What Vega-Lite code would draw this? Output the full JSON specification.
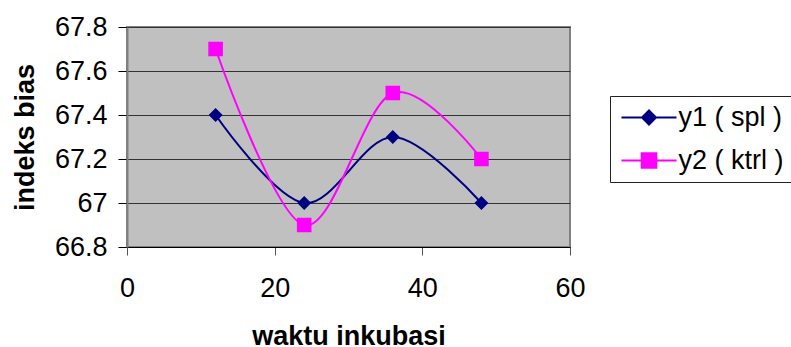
{
  "$schema": "https://vega.github.io/schema/vega-lite/v6.json",
  "width": 443,
  "height": 220,
  "autosize": "none",
  "padding": {"left": 127, "top": 27, "right": 221, "bottom": 100},
  "background": "white",
  "config": {
    "font": "Liberation Sans",
    "view": {"fill": "#C0C0C0", "stroke": "#808080", "strokeWidth": 2}
  },
  "data": {
    "values": [
      {"waktu": 12, "indeks": 67.4, "seri": "y1 ( spl )"},
      {"waktu": 24, "indeks": 67.0, "seri": "y1 ( spl )"},
      {"waktu": 36, "indeks": 67.3, "seri": "y1 ( spl )"},
      {"waktu": 48, "indeks": 67.0, "seri": "y1 ( spl )"},
      {"waktu": 12, "indeks": 67.7, "seri": "y2 ( ktrl )"},
      {"waktu": 24, "indeks": 66.9, "seri": "y2 ( ktrl )"},
      {"waktu": 36, "indeks": 67.5, "seri": "y2 ( ktrl )"},
      {"waktu": 48, "indeks": 67.2, "seri": "y2 ( ktrl )"}
    ]
  },
  "encoding": {
    "x": {
      "field": "waktu",
      "type": "quantitative",
      "title": "waktu inkubasi",
      "scale": {"domain": [0, 60], "nice": false},
      "axis": {
        "values": [0, 20, 40, 60],
        "grid": false,
        "domainColor": "#000000",
        "domainWidth": 1,
        "tickColor": "#555555",
        "tickSize": 8,
        "labelFontSize": 27,
        "labelColor": "#000000",
        "labelPadding": 20,
        "labelFlush": false,
        "titleFontSize": 27,
        "titleFontWeight": "bold",
        "titleColor": "#000000",
        "titleBaseline": "alphabetic",
        "titleY": 97
      }
    },
    "y": {
      "field": "indeks",
      "type": "quantitative",
      "title": "indeks bias",
      "scale": {"domain": [66.8, 67.8], "nice": false, "zero": false},
      "axis": {
        "values": [66.8, 67, 67.2, 67.4, 67.6, 67.8],
        "format": ".3~r",
        "grid": true,
        "gridColor": "#333333",
        "gridWidth": 1,
        "domainColor": "#808080",
        "domainWidth": 2,
        "tickColor": "#000000",
        "tickSize": 9,
        "labelFontSize": 27,
        "labelColor": "#000000",
        "labelPadding": 11,
        "labelFlush": false,
        "titleFontSize": 27,
        "titleFontWeight": "bold",
        "titleColor": "#000000",
        "titleBaseline": "alphabetic",
        "titleX": -94
      }
    },
    "color": {
      "field": "seri",
      "type": "nominal",
      "title": null,
      "scale": {"domain": ["y1 ( spl )", "y2 ( ktrl )"], "range": ["#000080", "#FF00FF"]},
      "legend": {
        "orient": "none",
        "legendX": 483,
        "legendY": 69,
        "padding": 8,
        "fillColor": "#FFFFFF",
        "strokeColor": "#222222",
        "symbolSize": 400,
        "symbolStrokeWidth": 2,
        "symbolOffset": 17.5,
        "labelOffset": 16,
        "labelFontSize": 27,
        "labelColor": "#000000",
        "labelLimit": 300,
        "rowPadding": 15,
        "encoding": {
          "symbols": {
            "stroke": {"value": {"expr": "scale('color', datum.value)"}},
            "fill": {"value": {"expr": "scale('color', datum.value)"}},
            "strokeWidth": {"value": 2}
          }
        }
      }
    }
  },
  "layer": [
    {
      "mark": {"type": "line", "interpolate": "cardinal", "strokeWidth": 2}
    },
    {
      "mark": {"type": "point", "filled": true, "opacity": 1, "size": 400},
      "encoding": {
        "shape": {
          "field": "seri",
          "type": "nominal",
          "scale": {
            "domain": ["y1 ( spl )", "y2 ( ktrl )"],
            "range": [
              "M-2.75,0L2.75,0M0,-0.7L0.7,0L0,0.7L-0.7,0Z",
              "M-2.75,0L2.75,0M-0.73,-0.73L0.73,-0.73L0.73,0.73L-0.73,0.73Z"
            ]
          },
          "legend": null
        }
      }
    }
  ]
}
